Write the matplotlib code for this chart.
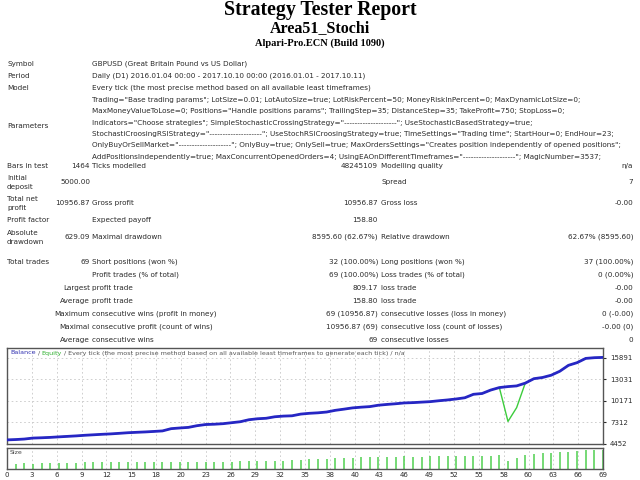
import numpy as np
import matplotlib.pyplot as plt

W, H = 640, 480

# balance after each closed trade (index 0 = initial deposit)
trade_idx = list(range(70))
balance = [5000, 5044, 5110, 5240, 5280, 5330, 5400, 5465, 5530, 5610,
           5675, 5740, 5795, 5870, 5950, 6005, 6055, 6120, 6190, 6490,
           6580, 6660, 6885, 7040, 7080, 7150, 7280, 7410, 7675, 7805,
           7870, 8070, 8160, 8200, 8425, 8530, 8595, 8700, 8925, 9080,
           9250, 9345, 9420, 9605, 9710, 9800, 9910, 9950, 10015, 10080,
           10200, 10305, 10435, 10595, 11055, 11160, 11620, 11950, 12080, 12170,
           12540, 13130, 13290, 13590, 14120, 14905, 15260, 15825, 15920, 15957]
# equity only differs from balance around trade 58
equity_dip = {58: 7450, 59: 9280}
equity = [equity_dip.get(i, b) for i, b in enumerate(balance)]

# lot size of trades 1..69
lot_size = [0.05, 0.06, 0.05, 0.06, 0.06, 0.06, 0.06, 0.06, 0.07, 0.07,
            0.07, 0.07, 0.07, 0.07, 0.07, 0.07, 0.07, 0.07, 0.07, 0.07,
            0.07, 0.07, 0.08, 0.08, 0.08, 0.08, 0.09, 0.09, 0.09, 0.09,
            0.09, 0.09, 0.10, 0.10, 0.11, 0.11, 0.11, 0.12, 0.12, 0.12,
            0.13, 0.13, 0.13, 0.13, 0.13, 0.14, 0.13, 0.13, 0.14, 0.14,
            0.14, 0.14, 0.14, 0.14, 0.14, 0.14, 0.15, 0.09, 0.12, 0.15,
            0.16, 0.17, 0.17, 0.18, 0.18, 0.19, 0.20, 0.20, 0.20]

y_ticks = [4452, 7312, 10171, 13031, 15891]
x_tick_labels = ['0', '3', '6', '9', '12', '15', '18', '20', '23', '26', '29', '32',
                 '35', '38', '40', '43', '46', '49', '52', '55', '58', '60', '63',
                 '66', '69']

params = [
    'Trading="Base trading params"; LotSize=0.01; LotAutoSize=true; LotRiskPercent=50; MoneyRiskInPercent=0; MaxDynamicLotSize=0;',
    'MaxMoneyValueToLose=0; Positions="Handle positions params"; TrailingStep=35; DistanceStep=35; TakeProfit=750; StopLoss=0;',
    'Indicators="Choose strategies"; SimpleStochasticCrossingStrategy="--------------------"; UseStochasticBasedStrategy=true;',
    'StochastiCroosingRSIStrategy="--------------------"; UseStochRSICroosingStrategy=true; TimeSettings="Trading time"; StartHour=0; EndHour=23;',
    'OnlyBuyOrSellMarket="--------------------"; OnlyBuy=true; OnlySell=true; MaxOrdersSettings="Creates position independently of opened positions";',
    'AddPositionsIndependently=true; MaxConcurrentOpenedOrders=4; UsingEAOnDifferentTimeframes="--------------------"; MagicNumber=3537;',
]

trade_rows = [
    ('Total trades', '69', 'Short positions (won %)', '32 (100.00%)', 'Long positions (won %)', '37 (100.00%)'),
    ('', '', 'Profit trades (% of total)', '69 (100.00%)', 'Loss trades (% of total)', '0 (0.00%)'),
    ('', 'Largest', 'profit trade', '809.17', 'loss trade', '-0.00'),
    ('', 'Average', 'profit trade', '158.80', 'loss trade', '-0.00'),
    ('', 'Maximum', 'consecutive wins (profit in money)', '69 (10956.87)', 'consecutive losses (loss in money)', '0 (-0.00)'),
    ('', 'Maximal', 'consecutive profit (count of wins)', '10956.87 (69)', 'consecutive loss (count of losses)', '-0.00 (0)'),
    ('', 'Average', 'consecutive wins', '69', 'consecutive losses', '0'),
]

TXT = '#2a2a2a'
FS = 5.2
fig = plt.figure(figsize=(6.4, 4.8), dpi=100)


def put(x, y, s, ha='left', size=FS, **kw):
    return fig.text(x / W, 1 - y / H, s, ha=ha, va='center', fontsize=size,
                    color=kw.pop('color', TXT), **kw)


# header
put(320, 10, 'Strategy Tester Report', ha='center', size=14.3,
    family='Liberation Serif', weight='bold', color='black')
put(320, 28, 'Area51_Stochi', ha='center', size=11.5,
    family='Liberation Serif', weight='bold', color='black')
put(320, 43, 'Alpari-Pro.ECN (Build 1090)', ha='center', size=7.5,
    family='Liberation Serif', weight='bold', color='black')

put(7, 64, 'Symbol')
put(92, 64, 'GBPUSD (Great Britain Pound vs US Dollar)')
put(7, 76, 'Period')
put(92, 76, 'Daily (D1) 2016.01.04 00:00 - 2017.10.10 00:00 (2016.01.01 - 2017.10.11)')
put(7, 88, 'Model')
put(92, 88, 'Every tick (the most precise method based on all available least timeframes)')
put(7, 126, 'Parameters')
for k, line in enumerate(params):
    put(92, 100 + k * 11.3, line)

put(7, 166, 'Bars in test')
put(90, 166, '1464', ha='right')
put(92, 166, 'Ticks modelled')
put(378, 166, '48245109', ha='right')
put(381, 166, 'Modelling quality')
put(633, 166, 'n/a', ha='right')

put(7, 178, 'Initial')
put(7, 187, 'deposit')
put(90, 182, '5000.00', ha='right')
put(381, 182, 'Spread')
put(633, 182, '7', ha='right')

put(7, 199, 'Total net')
put(7, 208, 'profit')
put(90, 203, '10956.87', ha='right')
put(92, 203, 'Gross profit')
put(378, 203, '10956.87', ha='right')
put(381, 203, 'Gross loss')
put(633, 203, '-0.00', ha='right')

put(7, 220, 'Profit factor')
put(92, 220, 'Expected payoff')
put(378, 220, '158.80', ha='right')

put(7, 233, 'Absolute')
put(7, 242, 'drawdown')
put(90, 237, '629.09', ha='right')
put(92, 237, 'Maximal drawdown')
put(378, 237, '8595.60 (62.67%)', ha='right')
put(381, 237, 'Relative drawdown')
put(633, 237, '62.67% (8595.60)', ha='right')

for k, row in enumerate(trade_rows):
    y = 262 + k * 13
    put(7, y, row[0])
    put(90, y, row[1], ha='right')
    put(92, y, row[2])
    put(378, y, row[3], ha='right')
    put(381, y, row[4])
    put(633, y, row[5], ha='right')

# balance / equity chart
x_ticks = np.linspace(0, 69, len(x_tick_labels))
ax = fig.add_axes([7 / W, 1 - 444 / H, 596 / W, 96 / H])
ax.plot(trade_idx, equity, color='#3ccc3c', lw=1.0, zorder=2)
ax.plot(trade_idx, balance, color='#2626c4', lw=2.0, zorder=3)
ax.set_xlim(0, 69)
ax.set_ylim(4452, 17207)
ax.set_xticks(x_ticks)
ax.set_xticklabels([])
ax.set_yticks(y_ticks)
ax.yaxis.tick_right()
ax.tick_params(axis='y', labelsize=5, colors=TXT, length=2, pad=3)
ax.tick_params(axis='x', length=0)
ax.grid(True, ls=(0, (2, 3)), color='#c8c8c8', lw=0.6)
for s in ax.spines.values():
    s.set_color('#555555')
    s.set_linewidth(1.0)

# coloured title inside the chart
pieces = [('Balance', '#3030b0'), (' / ', '#555555'), ('Equity', '#30b030'),
          (' / Every tick (the most precise method based on all available least timeframes to generate each tick) / n/a', '#555555')]
renderer = fig.canvas.get_renderer()
x0 = 10
for txt, col in pieces:
    t = put(x0, 353, txt, size=4.6, color=col)
    x0 += t.get_window_extent(renderer).width

# size panel
ax2 = fig.add_axes([7 / W, 1 - 469 / H, 596 / W, 21 / H])
ax2.vlines(trade_idx[1:], 0, lot_size, color='#4fd04f', lw=1.1)
ax2.set_xlim(0, 69)
ax2.set_ylim(0, 0.225)
ax2.set_yticks([])
ax2.set_xticks(x_ticks)
ax2.set_xticklabels(x_tick_labels)
ax2.tick_params(axis='x', labelsize=5, colors=TXT, length=0, pad=2)
ax2.grid(True, axis='x', ls=(0, (2, 3)), color='#c8c8c8', lw=0.6)
ax2.text(0.005, 0.8, 'Size', transform=ax2.transAxes, fontsize=4.5,
         color='#444444', va='center')
for s in ax2.spines.values():
    s.set_color('#555555')
    s.set_linewidth(1.0)

fig.savefig('out.png', dpi=100)
